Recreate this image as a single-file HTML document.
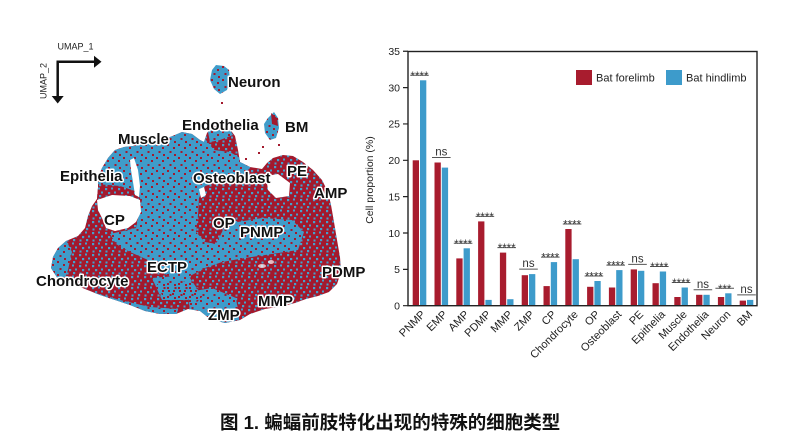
<!DOCTYPE html>
<html><head><meta charset="utf-8">
<style>
html,body{margin:0;padding:0;background:#fff}
svg{display:block}
text{font-family:"Liberation Sans",Arial,sans-serif}
</style></head><body>
<svg width="788" height="446" viewBox="0 0 788 446" xmlns="http://www.w3.org/2000/svg">
<defs>
<clipPath id="blob"><path d="M51,268 L53,257 L58,248 L66,241 L78,236 L85,228 L88,216 L92,206 L97,199 L98,188 L98,178 L102,168 L108,158 L115,150 L124,147 L133,146 L140,143 L152,141 L165,139 L175,135 L182,132 L192,134 L200,140 L204,142 L207,133 L212,127 L220,125 L229,128 L235,136 L238,150 L240,162 L250,167 L262,169 L267,163 L273,158 L283,155 L293,156 L303,162 L313,170 L322,180 L328,192 L331,205 L334,222 L337,240 L340,257 L341,272 L337,284 L329,292 L318,296 L306,299 L295,303 L283,306 L265,309 L250,314 L240,320 L225,323 L210,319 L200,311 L188,309 L176,314 L160,314 L145,311 L130,305 L115,300 L100,295 L85,289 L70,283 L58,279 Z"/></clipPath>
<pattern id="pB" width="13" height="11" patternUnits="userSpaceOnUse"><g fill="#45a0cd"><rect x="1" y="1" width="2.2" height="2.2"/><rect x="7" y="0.5" width="2" height="2"/><rect x="4" y="5" width="2.2" height="2.2"/><rect x="10" y="4.5" width="2" height="2"/><rect x="1.5" y="8.5" width="2" height="2"/><rect x="8" y="8" width="2.2" height="2.2"/></g></pattern>
<pattern id="pR" width="11" height="13" patternUnits="userSpaceOnUse"><g fill="#a3192d"><rect x="2" y="1" width="2" height="2"/><rect x="8" y="4" width="2" height="2"/><rect x="4.5" y="8" width="2" height="2"/><rect x="9" y="11" width="2" height="2"/></g></pattern>
<g id="bl">
<path d="M88,140 L200,128 L206,140 L214,150 L230,152 L240,158 L250,168 L240,178 L220,182 L205,186 L199,198 L198,215 L196,232 L205,242 L216,244 L226,224 L262,218 L292,220 L304,232 L298,250 L272,254 L245,258 L222,262 L205,268 L190,276 L176,280 L162,272 L148,260 L130,252 L116,244 L110,234 L136,228 L142,200 L112,197 L96,196 Z"/>
<path d="M188,292 L212,288 L236,298 L240,325 L205,325 L190,312 Z"/>
<path d="M46,243 L66,240 L72,252 L68,270 L62,286 L46,286 Z"/>
<path d="M208,132 L215,124 L228,126 L233,135 L220,140 L210,142 Z"/>
</g>
<g id="blm">
<path d="M152,278 L188,275 L198,290 L188,300 L162,300 Z"/>
<path d="M92,292 L120,300 L150,307 L178,309 L176,318 L120,312 L88,298 Z"/>
</g>
<g id="rdp">
<path d="M96,184 L120,186 L138,192 L141,201 L96,201 Z"/>
</g>
</defs>

<!-- UMAP scatter -->
<g clip-path="url(#blob)">
<rect x="40" y="110" width="310" height="220" fill="#a3192d"/>
<rect x="40" y="110" width="310" height="220" fill="url(#pB)"/>
<use href="#bl" fill="#3f9cca"/>
<use href="#bl" fill="url(#pR)"/>
<use href="#blm" fill="#3f9cca"/>
<use href="#blm" fill="url(#pR)"/>
<use href="#blm" fill="url(#pR)" transform="translate(5 6)"/>
<use href="#rdp" fill="#a3192d"/>
<use href="#rdp" fill="url(#pB)"/>
</g>
<!-- white gaps -->
<g fill="#fff">
<path d="M97,200 L112,195 L130,196 L140,200 L141,212 L136,222 L128,228 L115,231 L106,228 L102,218 L98,210 Z"/>
<path d="M130,160 L134,158 L138,170 L140,186 L139,197 L135,195 L133,182 L131,170 Z"/>
<path d="M266,176 L278,174 L290,183 L289,196 L276,198 L268,190 Z"/>
<path d="M199,189 L204,187 L206,195 L201,198 Z"/>
<ellipse cx="262" cy="266" rx="4" ry="2" opacity="0.7"/>
<ellipse cx="271" cy="262" rx="3" ry="2" opacity="0.7"/>
</g>
<!-- Neuron cluster -->
<path d="M212,70 L216,65 L224,66 L229,70 L230,80 L227,90 L220,94 L214,89 L210,80 Z" fill="#3f9cca"/>
<path d="M212,70 L216,65 L224,66 L229,70 L230,80 L227,90 L220,94 L214,89 L210,80 Z" fill="url(#pR)"/>
<rect x="221" y="102" width="2" height="2" fill="#a3192d"/>
<!-- BM cluster -->
<path d="M268,118 L274,112 L278,118 L279,128 L276,138 L270,140 L265,133 L264,124 Z" fill="#3f9cca"/>
<path d="M268,118 L274,112 L278,118 L279,128 L276,138 L270,140 L265,133 L264,124 Z" fill="url(#pR)"/>
<path d="M271,113 L277,118 L278,126 L272,124 Z" fill="#a3192d"/>
<g fill="#a3192d"><rect x="262" y="146" width="2" height="2"/><rect x="258" y="152" width="2" height="2"/><rect x="278" y="144" width="2" height="2"/><rect x="245" y="158" width="2" height="2"/></g>

<!-- UMAP axes -->
<g stroke="#111" stroke-width="2.5" fill="none">
<path d="M57.7,61.7 L57.7,97"/>
<path d="M56.5,61.7 L95,61.7"/>
</g>
<path d="M51.7,96 L63.7,96 L57.7,103.5 Z" fill="#111"/>
<path d="M94,55.7 L94,67.7 L101.5,61.7 Z" fill="#111"/>
<text x="57.5" y="49.5" font-size="9" fill="#222">UMAP_1</text>
<text x="46.5" y="81" font-size="9" fill="#222" text-anchor="middle" transform="rotate(-90 46.5 81)">UMAP_2</text>

<!-- cluster labels -->
<g font-size="15" font-weight="bold" fill="#111" stroke="#fff" stroke-width="3" stroke-linejoin="round" paint-order="stroke">
<text x="228" y="87">Neuron</text>
<text x="285" y="132">BM</text>
<text x="182" y="130">Endothelia</text>
<text x="118" y="144">Muscle</text>
<text x="60" y="181">Epithelia</text>
<text x="287" y="176">PE</text>
<text x="193" y="183">Osteoblast</text>
<text x="314" y="198">AMP</text>
<text x="104" y="225">CP</text>
<text x="213" y="228">OP</text>
<text x="240" y="237">PNMP</text>
<text x="147" y="272">ECTP</text>
<text x="322" y="277">PDMP</text>
<text x="36" y="286">Chondrocyte</text>
<text x="258" y="306">MMP</text>
<text x="208" y="320">ZMP</text>
</g>

<!-- Bar chart -->
<g fill="#a81c2e">
<rect x="412.7" y="160.3" width="6.3" height="145.4"/>
<rect x="434.5" y="162.5" width="6.3" height="143.2"/>
<rect x="456.3" y="258.4" width="6.3" height="47.3"/>
<rect x="478.1" y="221.4" width="6.3" height="84.3"/>
<rect x="499.9" y="252.6" width="6.3" height="53.1"/>
<rect x="521.7" y="275.2" width="6.3" height="30.5"/>
<rect x="543.5" y="286.1" width="6.3" height="19.6"/>
<rect x="565.3" y="229.0" width="6.3" height="76.7"/>
<rect x="587.1" y="286.8" width="6.3" height="18.9"/>
<rect x="608.9" y="287.5" width="6.3" height="18.2"/>
<rect x="630.7" y="269.4" width="6.3" height="36.3"/>
<rect x="652.5" y="283.2" width="6.3" height="22.5"/>
<rect x="674.3" y="297.0" width="6.3" height="8.7"/>
<rect x="696.1" y="294.8" width="6.3" height="10.9"/>
<rect x="717.9" y="297.0" width="6.3" height="8.7"/>
<rect x="739.7" y="300.6" width="6.3" height="5.1"/>
</g>
<g fill="#3d9bcb">
<rect x="420.0" y="80.3" width="6.3" height="225.4"/>
<rect x="441.8" y="167.6" width="6.3" height="138.1"/>
<rect x="463.6" y="248.3" width="6.3" height="57.4"/>
<rect x="485.4" y="299.9" width="6.3" height="5.8"/>
<rect x="507.2" y="299.2" width="6.3" height="6.5"/>
<rect x="529.0" y="274.1" width="6.3" height="31.6"/>
<rect x="550.8" y="262.1" width="6.3" height="43.6"/>
<rect x="572.6" y="259.2" width="6.3" height="46.5"/>
<rect x="594.4" y="281.0" width="6.3" height="24.7"/>
<rect x="616.2" y="270.1" width="6.3" height="35.6"/>
<rect x="638.0" y="270.8" width="6.3" height="34.9"/>
<rect x="659.8" y="271.5" width="6.3" height="34.2"/>
<rect x="681.6" y="287.5" width="6.3" height="18.2"/>
<rect x="703.4" y="294.8" width="6.3" height="10.9"/>
<rect x="725.2" y="293.3" width="6.3" height="12.4"/>
<rect x="747.0" y="299.9" width="6.3" height="5.8"/>
</g>

<!-- frame and axis -->
<rect x="408" y="51.5" width="349" height="254.2" fill="none" stroke="#222" stroke-width="1.4"/>
<g stroke="#222" stroke-width="1.2">
<path d="M403,305.7H408M403,269.35H408M403,233H408M403,196.65H408M403,160.3H408M403,123.95H408M403,87.6H408M403,51.25H408"/>
</g>
<g font-size="10.5" fill="#222" text-anchor="end">
<text x="400" y="309.5">0</text>
<text x="400" y="273.1">5</text>
<text x="400" y="236.8">10</text>
<text x="400" y="200.4">15</text>
<text x="400" y="164.1">20</text>
<text x="400" y="127.7">25</text>
<text x="400" y="91.4">30</text>
<text x="400" y="55">35</text>
</g>
<text x="373" y="180" font-size="10.5" fill="#222" text-anchor="middle" transform="rotate(-90 373 180)">Cell proportion (%)</text>

<!-- significance -->
<g stroke="#555" stroke-width="1">
<path d="M410.2,75.3H428.8M432,157.5H450.6M453.8,243.3H472.4M475.6,216.4H494.2M497.4,247.6H516M519.2,269.1H537.8M541,257.1H559.6M562.8,224H581.4M584.6,276H603.2M606.4,265.1H625M628.2,264.4H646.8M650,266.5H668.6M671.8,282.5H690.4M693.6,289.8H712.2M715.4,288.3H734M737.2,294.9H755.8"/>
</g>
<g font-size="11.5" fill="#333" text-anchor="middle">
<text x="419.5" y="79.8">****</text>
<text x="441.3" y="155.5">ns</text>
<text x="463.1" y="247.8">****</text>
<text x="484.9" y="220.9">****</text>
<text x="506.7" y="252.1">****</text>
<text x="528.5" y="267.1">ns</text>
<text x="550.3" y="261.6">****</text>
<text x="572.1" y="228.5">****</text>
<text x="593.9" y="280.5">****</text>
<text x="615.7" y="269.6">****</text>
<text x="637.5" y="262.4">ns</text>
<text x="659.3" y="271">****</text>
<text x="681.1" y="287">****</text>
<text x="702.9" y="287.8">ns</text>
<text x="724.7" y="292.8">***</text>
<text x="746.5" y="292.9">ns</text>
</g>

<!-- x labels -->
<g font-size="11" fill="#222" text-anchor="end">
<text x="426" y="315" transform="rotate(-45 426 315)">PNMP</text>
<text x="447.8" y="315" transform="rotate(-45 447.8 315)">EMP</text>
<text x="469.6" y="315" transform="rotate(-45 469.6 315)">AMP</text>
<text x="491.4" y="315" transform="rotate(-45 491.4 315)">PDMP</text>
<text x="513.2" y="315" transform="rotate(-45 513.2 315)">MMP</text>
<text x="535" y="315" transform="rotate(-45 535 315)">ZMP</text>
<text x="556.8" y="315" transform="rotate(-45 556.8 315)">CP</text>
<text x="578.6" y="315" transform="rotate(-45 578.6 315)">Chondrocyte</text>
<text x="600.4" y="315" transform="rotate(-45 600.4 315)">OP</text>
<text x="622.2" y="315" transform="rotate(-45 622.2 315)">Osteoblast</text>
<text x="644" y="315" transform="rotate(-45 644 315)">PE</text>
<text x="665.8" y="315" transform="rotate(-45 665.8 315)">Epithelia</text>
<text x="687.6" y="315" transform="rotate(-45 687.6 315)">Muscle</text>
<text x="709.4" y="315" transform="rotate(-45 709.4 315)">Endothelia</text>
<text x="731.2" y="315" transform="rotate(-45 731.2 315)">Neuron</text>
<text x="753" y="315" transform="rotate(-45 753 315)">BM</text>
</g>

<!-- legend -->
<rect x="576" y="70" width="16" height="15" fill="#a81c2e"/>
<text x="596" y="81.5" font-size="11" fill="#222">Bat forelimb</text>
<rect x="666" y="70" width="16" height="15" fill="#3d9bcb"/>
<text x="686" y="81.5" font-size="11" fill="#222">Bat hindlimb</text>

<!-- caption -->
<text x="220" y="429" font-size="18.5" font-weight="bold" fill="#111" style="font-family:'Liberation Sans','Noto Sans CJK SC',sans-serif">图 1. 蝙蝠前肢特化出现的特殊的细胞类型</text>
</svg>
</body></html>
